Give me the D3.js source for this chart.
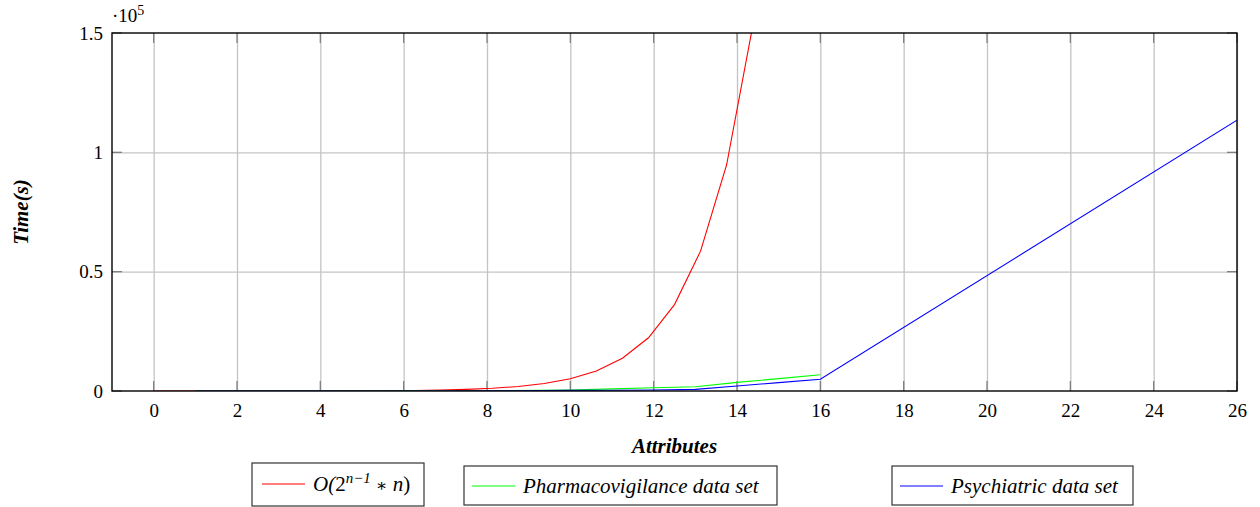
<!DOCTYPE html>
<html>
<head>
<meta charset="utf-8">
<script src="https://cdn.jsdelivr.net/npm/d3@7"></script>
<style>
  body { margin: 0; background: #fff; }
  text { font-family: 'Liberation Serif', 'Times New Roman', serif; }
  .grid line { stroke: #c4c4c4; stroke-width: 1.3; }
  .grid path { display: none; }
</style>
</head>
<body>
<svg id="chart" width="1260" height="507"></svg>
<script>
// red curve O(2^(n-1)*n), sampled every 0.625
var bigOX = [0, 0.625, 1.25, 1.875, 2.5, 3.125, 3.75, 4.375, 5, 5.625, 6.25, 6.875, 7.5,
             8.125, 8.75, 9.375, 10, 10.625, 11.25, 11.875, 12.5, 13.125, 13.75, 14.375, 15];
var bigOY = [0, 0.5, 1.5, 3.4, 7, 14, 25, 45, 80, 138, 238, 403, 679,
             1136, 1883, 3123, 5120, 8390, 13700, 22300, 36200, 58600, 94700, 152700, 245800];

var pharmaX = [1, 2, 4, 6, 8, 10, 11, 12, 13, 14, 15, 16];
var pharmaY = [0, 0, 20, 60, 150, 400, 900, 1380, 1800, 3600, 5200, 6800];

var psychX = [1, 2, 4, 6, 8, 10, 11, 12, 13, 14, 15, 16, 26];
var psychY = [0, 0, 10, 30, 80, 250, 300, 400, 700, 2100, 3500, 4900, 113500];

var xTicks = [0, 2, 4, 6, 8, 10, 12, 14, 16, 18, 20, 22, 24, 26];
var yTicks = [0, 50000, 100000, 150000];

var FONT = "'Liberation Serif', 'Times New Roman', serif";

var margin = {top: 33, right: 23, bottom: 116, left: 112};
var svg = d3.select("#chart");
var width = 1260 - margin.left - margin.right,
    height = 507 - margin.top - margin.bottom;

var g = svg.append("g")
    .attr("transform", "translate(" + margin.left + "," + margin.top + ")");

var x = d3.scaleLinear().domain([-1, 26]).range([0, width]);
var y = d3.scaleLinear().domain([0, 150000]).range([height, 0]);

// grid
g.append("g").attr("class", "grid")
    .call(d3.axisBottom(x).tickValues(xTicks).tickSize(height).tickFormat(""));
g.append("g").attr("class", "grid")
    .call(d3.axisLeft(y).tickValues([50000, 100000]).tickSize(-width).tickFormat(""));

// little dark tick marks inside the box
var tickLen = 10;
xTicks.forEach(function(t) {
  g.append("line").attr("x1", x(t)).attr("x2", x(t)).attr("y1", height).attr("y2", height - tickLen)
    .attr("stroke", "#808080").attr("stroke-width", 1.3);
  g.append("line").attr("x1", x(t)).attr("x2", x(t)).attr("y1", 0).attr("y2", tickLen)
    .attr("stroke", "#808080").attr("stroke-width", 1.3);
});
yTicks.forEach(function(t) {
  g.append("line").attr("x1", 0).attr("x2", tickLen).attr("y1", y(t)).attr("y2", y(t))
    .attr("stroke", "#808080").attr("stroke-width", 1.3);
  g.append("line").attr("x1", width).attr("x2", width - tickLen).attr("y1", y(t)).attr("y2", y(t))
    .attr("stroke", "#808080").attr("stroke-width", 1.3);
});

// tick labels
var xAxis = g.append("g")
    .attr("transform", "translate(0," + height + ")")
    .call(d3.axisBottom(x).tickValues(xTicks).tickSize(0).tickPadding(13));
xAxis.attr("font-family", null);
xAxis.select(".domain").remove();
xAxis.selectAll("text").attr("font-size", 19).style("font-family", FONT).attr("fill", "#000");

var yFmt = function(d) { return d === 0 ? "0" : d3.format("")(d / 100000); };
var yAxis = g.append("g")
    .call(d3.axisLeft(y).tickValues(yTicks).tickSize(0).tickPadding(9).tickFormat(yFmt));
yAxis.attr("font-family", null);
yAxis.select(".domain").remove();
yAxis.selectAll("text").attr("font-size", 19).style("font-family", FONT).attr("fill", "#000");

// exponent
var ex = g.append("text").attr("x", 0).attr("y", -11).attr("font-size", 19).style("font-family", FONT);
ex.append("tspan").text("\u00b710");
ex.append("tspan").attr("dy", -7).attr("font-size", 14).text("5");

// lines
svg.append("clipPath").attr("id", "clip")
  .append("rect").attr("width", width).attr("height", height);

var line = d3.line()
    .x(function(d) { return x(d[0]); })
    .y(function(d) { return y(d[1]); });

var series = [
  {xs: bigOX, ys: bigOY, color: "#ff0000"},
  {xs: pharmaX, ys: pharmaY, color: "#00ff00"},
  {xs: psychX, ys: psychY, color: "#0000ff"}
];
series.forEach(function(s) {
  g.append("path")
    .datum(d3.zip(s.xs, s.ys))
    .attr("clip-path", "url(#clip)")
    .attr("fill", "none")
    .attr("stroke", s.color)
    .attr("stroke-width", 1.1)
    .attr("d", line);
});

// frame
g.append("rect").attr("width", width).attr("height", height)
  .attr("fill", "none").attr("stroke", "#000").attr("stroke-width", 1.4);

// axis titles
svg.append("text")
  .attr("x", margin.left + width / 2).attr("y", 453)
  .attr("text-anchor", "middle").attr("font-size", 21)
  .attr("font-weight", "bold").attr("font-style", "italic")
  .style("font-family", FONT)
  .text("Attributes");
svg.append("text")
  .attr("transform", "translate(28," + (margin.top + height / 2) + ") rotate(-90)")
  .attr("text-anchor", "middle").attr("font-size", 21)
  .attr("font-style", "italic").attr("font-weight", "bold")
  .style("font-family", FONT)
  .text("Time(s)");

// legends
var legends = [
  {x: 252, y: 463, w: 172, h: 43, lx: 262, ly: 484, color: "#ff0000"},
  {x: 464, y: 466, w: 313, h: 39, lx: 472, ly: 486, color: "#00ff00"},
  {x: 892, y: 466, w: 241, h: 39, lx: 900, ly: 486, color: "#0000ff"}
];
var legendNames = ["O(2n\u22121 \u2217 n)", "Pharmacovigilance data set", "Psychiatric data set"];
legends.forEach(function(l, i) {
  svg.append("rect").attr("x", l.x).attr("y", l.y).attr("width", l.w).attr("height", l.h)
    .attr("fill", "#fff").attr("stroke", "#333").attr("stroke-width", 1.2);
  svg.append("line").attr("x1", l.lx).attr("x2", l.lx + 43).attr("y1", l.ly).attr("y2", l.ly)
    .attr("stroke", l.color).attr("stroke-width", 1.1);
  var t = svg.append("text").attr("x", l.lx + 51).attr("y", l.ly + 7)
    .attr("font-size", 21).attr("font-style", "italic").style("font-family", FONT);
  if (i === 0) {
    t.append("tspan").text("O(");
    t.append("tspan").attr("font-style", "normal").text("2");
    t.append("tspan").attr("dy", -8).attr("font-size", 15).text("n\u22121");
    t.append("tspan").attr("dy", 8).attr("font-style", "normal").text(" ");
    t.append("tspan").attr("font-style", "normal").attr("font-size", 17)
      .style("font-family", "'DejaVu Serif', serif").text("\u2217");
    t.append("tspan").attr("font-style", "normal").text(" ");
    t.append("tspan").text("n");
    t.append("tspan").attr("font-style", "normal").text(")");
  } else {
    t.text(legendNames[i]);
  }
});
</script>
</body>
</html>
